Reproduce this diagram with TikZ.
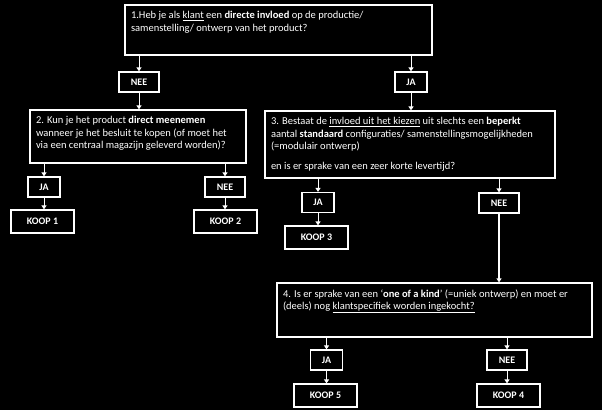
\documentclass[tikz,border=0pt]{standalone}
\usepackage{fontspec}
\setmainfont{Carlito}
\usetikzlibrary{arrows.meta}
\newcommand{\qtext}[3]{\parbox[c][#2][t]{#1}{\vspace*{2.5pt}\raggedright #3}}

\begin{document}
\begin{tikzpicture}[x=1pt,y=-1pt,
        every node/.style={font=\fontsize{10.5}{12.3}\selectfont,text=white},
        base/.style={draw=white,line width=1.2pt},
        question/.style={base,inner xsep=6pt,inner ysep=4pt},
        answer/.style={base,inner sep=0pt,font=\fontsize{10}{11}\selectfont\bfseries,minimum height=20pt},
        yes/.style={answer,minimum width=32pt},
        no/.style={answer,minimum width=40pt},
        buy/.style={answer,minimum width=63pt,minimum height=23pt},
        link/.style={draw=white,line width=1pt,-{Triangle[width=5pt,length=4pt]}},
        biglink/.style={link,line width=2pt}]
        % Background
        \fill[black] (0,0) rectangle (602,410);
        % Question 1
        \node[question] (q1) at (278.5,30) {\qtext{295pt}{42pt}{1.Heb je als \underline{klant} een \textbf{directe invloed} op de productie/\\ samenstelling/ ontwerp van het product?}};
        \node[no] (n1) at (139,82) {NEE};
        \node[yes] (j1) at (411,82) {JA};
        % Left branch
        \node[question] (q2) at (138,136.5) {\qtext{204pt}{45pt}{2. Kun je het product \textbf{direct meenemen}\\ wanneer je het besluit te kopen (of moet het\\ via een centraal magazijn geleverd worden)?}};
        \node[yes] (j2) at (44,187) {JA};
        \node[no] (n2) at (225,187) {NEE};
        \node[buy] (k1) at (42.5,221.5) {KOOP 1};
        \node[buy] (k2) at (225.5,221.5) {KOOP 2};
        % Right branch
        \node[question] (q3) at (410,144.5) {\qtext{278pt}{59pt}{3. Bestaat de \underline{invloed uit het kiezen} uit slechts een \textbf{beperkt}\\ aantal \textbf{standaard} configuraties/ samenstellingsmogelijkheden\\ (=modulair ontwerp)\\[8pt] en is er sprake van een zeer korte levertijd?}};
        \node[yes] (j3) at (318,202.5) {JA};
        \node[no] (n3) at (499,203) {NEE};
        \node[buy] (k3) at (316.5,237.5) {KOOP 3};
        % Question 4
        \node[question] (q4) at (434.5,310) {\qtext{303pt}{46pt}{4. Is er sprake van een `\textbf{one of a kind}' (=uniek ontwerp) en moet er\\ (deels) nog \underline{klantspecifiek worden ingekocht?}}};
        \node[yes] (j4) at (326.5,360) {JA};
        \node[no] (n4) at (507,360) {NEE};
        \node[buy] (k5) at (325.5,395.5) {KOOP 5};
        \node[buy] (k4) at (508.5,395.5) {KOOP 4};
        % Connectors
        \draw[link] (q1.south -| n1) -- (n1.north);
        \draw[link] (q1.south -| j1) -- (j1.north);
        \draw[link] (n1.south) -- (n1.south |- q2.north);
        \draw[link] (j1.south) -- (j1.south |- q3.north);
        \draw[link] (q2.south -| j2) -- (j2.north);
        \draw[link] (q2.south -| n2) -- (n2.north);
        \draw[link] (j2.south) -- (j2.south |- k1.north);
        \draw[link] (n2.south) -- (n2.south |- k2.north);
        \draw[link] (q3.south -| j3) -- (j3.north);
        \draw[link] (q3.south -| n3) -- (n3.north);
        \draw[link] (j3.south) -- (j3.south |- k3.north);
        \draw[biglink] (n3.south) -- (n3.south |- q4.north);
        \draw[link] (q4.south -| j4) -- (j4.north);
        \draw[link] (q4.south -| n4) -- (n4.north);
        \draw[link] (j4.south) -- (j4.south |- k5.north);
        \draw[link] (n4.south) -- (n4.south |- k4.north);
    \end{tikzpicture}
\end{document}
